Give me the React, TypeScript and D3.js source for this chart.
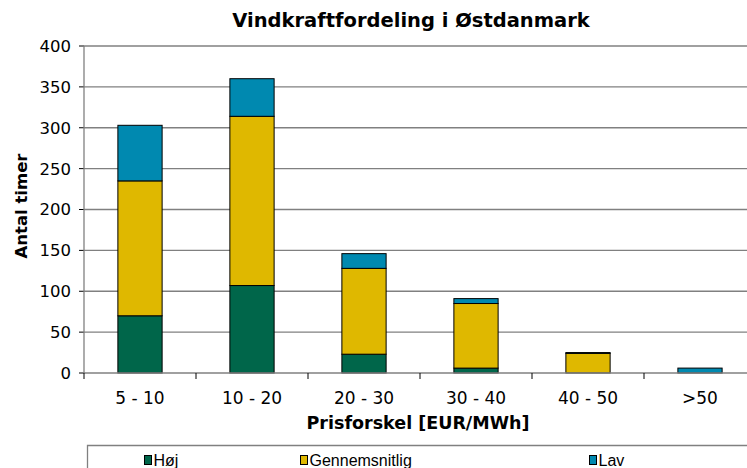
import React from "react";
import * as d3 from "d3";

const categories = ["5 - 10", "10 - 20", "20 - 30", "30 - 40", "40 - 50", ">50"];
const hoj = [70, 107, 23, 6, 0, 0];
const gennemsnitlig = [165, 207, 105, 79, 24, 0];
const lav = [68, 46, 18, 6, 1, 6];
const seriesNames = ["Høj", "Gennemsnitlig", "Lav"];
const seriesColors = ["#00664A", "#DFB800", "#0089B0"];
const yTicks = [0, 50, 100, 150, 200, 250, 300, 350, 400];

const W = 747;
const H = 468;
const font = "Verdana, 'DejaVu Sans', sans-serif";

export default function App() {
  const x = d3.scaleBand().domain(categories).range([84, 756]).paddingInner(0.605).paddingOuter(0.3025);
  const y = d3.scaleLinear().domain([0, 400]).range([373, 46]);
  const rows = categories.map((c, i) => ({ cat: c, Høj: hoj[i], Gennemsnitlig: gennemsnitlig[i], Lav: lav[i] }));
  const stacked = d3.stack<any>().keys(seriesNames)(rows);
  const band = d3.scaleBand().domain(categories).range([84, 756]);
  const legendX = [144, 300, 589];

  return (
    <svg width={W} height={H} style={{ position: "absolute", left: 0, top: 0 }} fontFamily={font}>
      <rect x={0} y={0} width={W} height={H} fill="#fff" />
      {yTicks.map((t) => (
        <g key={t}>
          {t > 0 && <line x1={84} x2={W} y1={y(t)} y2={y(t)} stroke="#808080" strokeWidth={1.3} />}
          <line x1={79} x2={84} y1={y(t)} y2={y(t)} stroke="#000" strokeWidth={1} />
          <text x={71} y={y(t)} dy="0.36em" textAnchor="end" fontSize={16.5}>{t}</text>
        </g>
      ))}
      <line x1={84} x2={84} y1={46} y2={373} stroke="#808080" strokeWidth={1.3} />
      {stacked.map((s, si) => (
        <g key={si}>
          {s.map((d, i) => (d[1] - d[0] > 0 ? (
            <rect key={i} x={x(categories[i])!} width={x.bandwidth()} y={y(d[1])} height={y(d[0]) - y(d[1])}
              fill={seriesColors[si]} stroke="#000" strokeWidth={1} />
          ) : null))}
        </g>
      ))}
      <line x1={84} x2={W} y1={373} y2={373} stroke="#808080" strokeWidth={1.3} />
      {categories.map((c, i) => (
        <g key={c}>
          <line x1={band(c)!} x2={band(c)!} y1={373} y2={379} stroke="#000" strokeWidth={1} />
          <text x={band(c)! + band.bandwidth() / 2} y={404} textAnchor="middle" fontSize={17}>{c}</text>
        </g>
      ))}
      <text x={411} y={27} textAnchor="middle" fontSize={19.5} fontWeight="bold">Vindkraftfordeling i Østdanmark</text>
      <text transform="translate(27,206) rotate(-90)" textAnchor="middle" fontSize={16.5} fontWeight="bold">Antal timer</text>
      <text x={418} y={429} textAnchor="middle" fontSize={17.5} fontWeight="bold">Prisforskel [EUR/MWh]</text>
      <path d={`M87.5,${H}V445.5H${W}`} fill="none" stroke="#808080" strokeWidth={1.3} />
      {seriesNames.map((n, i) => (
        <g key={n}>
          <rect x={legendX[i] + 0.5} y={455.5} width={7} height={9} fill={seriesColors[i]} stroke="#000" strokeWidth={1} />
          <text x={legendX[i] + 9.5} y={466} fontSize={16} fontFamily="Arial, 'Liberation Sans', sans-serif">{n}</text>
        </g>
      ))}
    </svg>
  );
}
